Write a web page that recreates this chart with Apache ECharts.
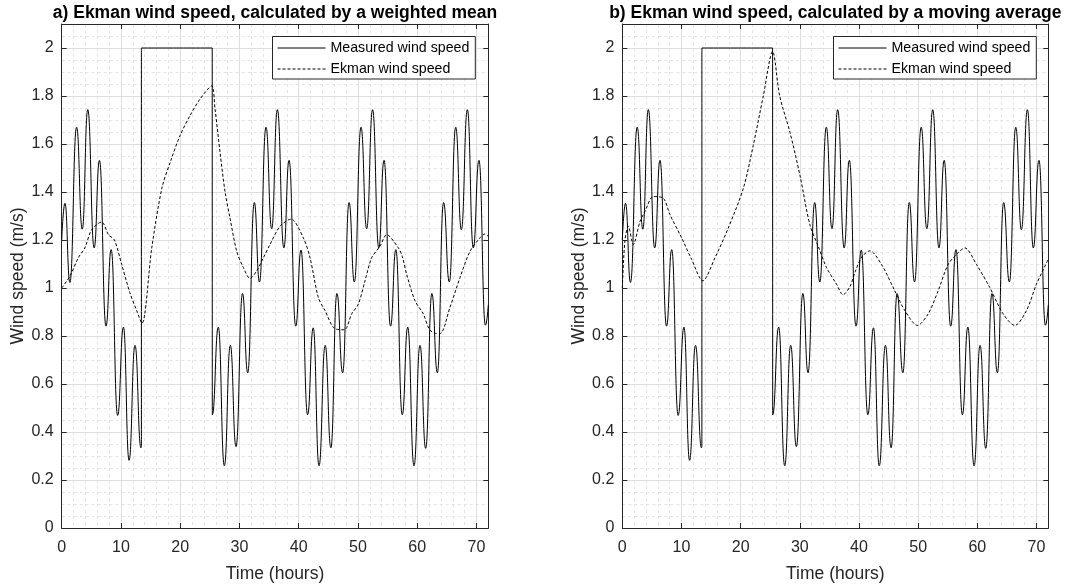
<!DOCTYPE html>
<html><head><meta charset="utf-8">
<script src="https://cdn.jsdelivr.net/npm/echarts@6/dist/echarts.min.js"></script>
<style>html,body{margin:0;padding:0;background:#fff}#c{width:1067px;height:588px}</style>
</head><body><div id="c"></div>
<script>
// ---- data ----
const panelTitles = ['a) Ekman wind speed, calculated by a weighted mean', 'b) Ekman wind speed, calculated by a moving average'];
const seriesNames = ['Measured wind speed', 'Ekman wind speed'];
const xAxisTitle = 'Time (hours)';
const yAxisTitle = 'Wind speed (m/s)';

const measuredTime = [0, 0.55, 1.38, 2.52, 3.47, 4.40, 5.48, 6.37, 7.48, 8.35, 9.44, 10.42, 11.37, 12.37, 13.38, 13.45, 13.45, 25.40, 25.42, 26.43, 27.45, 28.46, 29.42, 30.52, 31.39, 32.51, 33.38, 34.48, 35.44, 36.40, 37.50, 38.37, 39.50, 40.39, 41.50, 42.45, 43.43, 44.47, 45.43, 46.45, 47.42, 48.50, 49.39, 50.52, 51.47, 52.47, 53.52, 54.40, 55.50, 56.40, 57.48, 58.40, 59.46, 60.47, 61.43, 62.48, 63.40, 64.45, 65.42, 66.50, 67.45, 68.47, 69.47, 70.42, 71.52, 72];
const measuredSpeed = [1.20, 1.353, 1.023, 1.67, 1.245, 1.743, 1.167, 1.532, 0.841, 1.16, 0.469, 0.837, 0.282, 0.761, 0.334, 0.34, 2.0, 2.0, 0.472, 0.837, 0.259, 0.761, 0.339, 0.977, 0.647, 1.356, 1.025, 1.67, 1.247, 1.743, 1.167, 1.532, 0.841, 1.158, 0.472, 0.834, 0.259, 0.761, 0.334, 0.977, 0.647, 1.356, 1.025, 1.67, 1.247, 1.743, 1.167, 1.532, 0.841, 1.16, 0.472, 0.837, 0.259, 0.761, 0.332, 0.977, 0.647, 1.356, 1.025, 1.67, 1.243, 1.743, 1.167, 1.532, 0.845, 0.93];

const ekmanWeightedTime = [0, 1.4, 2.8, 3.9, 5.06, 6.75, 7.9, 8.9, 10.12, 11.5, 12.65, 13.55, 15.2, 16.9, 18.4, 19.97, 21.65, 23.34, 25.3, 25.88, 26.72, 27.57, 28.41, 29.54, 30.66, 31.79, 32.9, 34.03, 35.15, 36.84, 38.7, 40.78, 41.91, 43.31, 44.44, 46.13, 47.71, 48.94, 50.07, 51.19, 52.32, 53.72, 54.85, 56.82, 57.5, 58.22, 59.63, 61.03, 62.0, 62.9, 63.85, 65.54, 67.22, 68.91, 70.6, 71.44, 72];
const ekmanWeightedSpeed = [1.0, 1.05, 1.126, 1.167, 1.243, 1.275, 1.222, 1.2, 1.098, 0.981, 0.906, 0.853, 1.167, 1.415, 1.53, 1.635, 1.718, 1.787, 1.842, 1.745, 1.566, 1.401, 1.291, 1.153, 1.085, 1.04, 1.071, 1.126, 1.181, 1.257, 1.287, 1.209, 1.126, 0.961, 0.906, 0.83, 0.826, 0.892, 0.933, 1.03, 1.126, 1.174, 1.222, 1.167, 1.13, 1.057, 0.947, 0.892, 0.83, 0.812, 0.81, 0.92, 1.043, 1.153, 1.209, 1.225, 1.215];

const ekmanMovingTime = [0, 0.45, 1.02, 1.86, 2.99, 3.83, 5.24, 6.93, 8.06, 10.03, 11.72, 13.6, 15.66, 17.91, 20.45, 22.13, 23.83, 25.4, 26.6, 28.33, 30.02, 31.7, 33.11, 34.52, 36.21, 37.3, 38.46, 39.4, 40.5, 41.84, 43.81, 46.06, 47.75, 49.89, 51.69, 53.38, 55.07, 56.76, 57.89, 59.86, 62.11, 64.37, 66.34, 68.31, 70.0, 72];
const ekmanMovingSpeed = [1.0, 1.2, 1.257, 1.181, 1.277, 1.319, 1.381, 1.374, 1.305, 1.209, 1.119, 1.03, 1.126, 1.25, 1.415, 1.594, 1.8, 1.986, 1.8, 1.649, 1.47, 1.264, 1.174, 1.085, 1.016, 0.972, 1.005, 1.07, 1.13, 1.155, 1.098, 0.988, 0.906, 0.844, 0.892, 0.988, 1.098, 1.147, 1.167, 1.098, 1.002, 0.892, 0.844, 0.906, 1.016, 1.12];

const xTickStep = 10, xMinorStep = 2, xMin = 0, xMax = 72;
const yTickStep = 0.2, yMinorStep = 0.05, yMin = 0, yMax = 2.1;

// ---- chart ----
const FONT = 'Liberation Sans, Arial, Helvetica, sans-serif';
const AX = '#262626';
const grids = [
  {left: 61.7, top: 24, width: 426.6, height: 508.7},
  {left: 622.3, top: 24, width: 426.0, height: 508.7}
];
const legendLeft = [272.5, 833.5];
const titleCenter = [275, 835.3];
const ekmanSets = [[ekmanWeightedTime, ekmanWeightedSpeed], [ekmanMovingTime, ekmanMovingSpeed]];
const pairs = (xs, ys) => xs.map((x, i) => [x, ys[i]]);

const xAxis = [], yAxis = [], series = [], legend = [], title = [];
grids.forEach((g, gi) => {
  xAxis.push({
    gridIndex: gi, type: 'value', position: 'bottom', min: xMin, max: xMax, interval: xTickStep, z: 1,
    axisLine: {show: true, onZero: false, lineStyle: {color: AX, width: 1}},
    axisTick: {show: true, inside: true, length: 5, lineStyle: {color: AX}},
    axisLabel: {show: true, color: AX, fontSize: 16, margin: 12, fontFamily: FONT, showMaxLabel: false},
    splitLine: {show: true, lineStyle: {color: '#dedede', width: 1}},
    name: xAxisTitle, nameLocation: 'middle', nameGap: 37,
    nameTextStyle: {fontSize: 17.5, color: AX, fontFamily: FONT}
  });
  xAxis.push({
    gridIndex: gi, type: 'value', position: 'top', min: xMin, max: xMax, interval: xTickStep, z: 1,
    axisLine: {show: true, onZero: false, lineStyle: {color: AX, width: 1}},
    axisTick: {show: true, inside: true, length: 5, lineStyle: {color: AX}},
    axisLabel: {show: false}, splitLine: {show: false}
  });
  xAxis.push({
    gridIndex: gi, type: 'value', position: 'bottom', min: xMin, max: xMax, interval: xMinorStep, z: 0,
    axisLine: {show: false}, axisTick: {show: false}, axisLabel: {show: false},
    splitLine: {show: true, lineStyle: {color: '#e4e4e4', width: 1, type: [3, 3]}}
  });
  yAxis.push({
    gridIndex: gi, type: 'value', position: 'left', min: yMin, max: yMax, interval: yTickStep, z: 1,
    axisLine: {show: true, onZero: false, lineStyle: {color: AX, width: 1}},
    axisTick: {show: true, inside: true, length: 5, lineStyle: {color: AX}},
    axisLabel: {show: true, color: AX, fontSize: 16, margin: 8, fontFamily: FONT, showMaxLabel: false, padding: [0, 0, 0, 0]},
    splitLine: {show: true, lineStyle: {color: '#dedede', width: 1}},
    name: yAxisTitle, nameLocation: 'middle', nameGap: 28,
    nameTextStyle: {fontSize: 17.5, color: AX, fontFamily: FONT}
  });
  yAxis.push({
    gridIndex: gi, type: 'value', position: 'right', min: yMin, max: yMax, interval: yTickStep, z: 1,
    axisLine: {show: true, onZero: false, lineStyle: {color: AX, width: 1}},
    axisTick: {show: true, inside: true, length: 5, lineStyle: {color: AX}},
    axisLabel: {show: false}, splitLine: {show: false}
  });
  yAxis.push({
    gridIndex: gi, type: 'value', position: 'left', min: yMin, max: yMax, interval: yMinorStep, z: 0,
    axisLine: {show: false}, axisTick: {show: false}, axisLabel: {show: false},
    splitLine: {show: true, lineStyle: {color: '#e4e4e4', width: 1, type: [3, 3]}}
  });
  series.push({
    name: seriesNames[0], type: 'line', xAxisIndex: 3 * gi, yAxisIndex: 3 * gi,
    data: pairs(measuredTime, measuredSpeed), symbol: 'none', showSymbol: false,
    smooth: 0.5, smoothMonotone: 'x',
    lineStyle: {color: '#000', width: 1}, itemStyle: {color: '#000'}, z: 3
  });
  series.push({
    name: seriesNames[1], type: 'line', xAxisIndex: 3 * gi, yAxisIndex: 3 * gi,
    data: pairs(ekmanSets[gi][0], ekmanSets[gi][1]), symbol: 'none', showSymbol: false,
    smooth: 0.3,
    lineStyle: {color: '#000', width: 1, type: [3, 2]}, itemStyle: {color: '#000'}, z: 3
  });
  legend.push({
    orient: 'vertical', left: legendLeft[gi], top: 36.5, itemWidth: 48, itemHeight: 15, itemGap: 7,
    padding: [4.5, 6, 3, 4.5], borderColor: AX, borderWidth: 1, backgroundColor: '#fff',
    itemStyle: {opacity: 0}, lineStyle: {width: 1},
    textStyle: {fontSize: 14.2, color: '#000', fontFamily: FONT},
    data: seriesNames.slice(), selectedMode: false
  });
  title.push({
    text: panelTitles[gi], left: titleCenter[gi], top: 4, textAlign: 'center', padding: 0,
    textStyle: {fontSize: 17.5, fontWeight: 'bold', color: '#000', fontFamily: FONT}
  });
});

const chart = echarts.init(document.getElementById('c'), null, {renderer: 'canvas'});
chart.setOption({
  animation: false, backgroundColor: '#fff',
  grid: grids, xAxis, yAxis, series, legend, title
});
</script></body></html>
